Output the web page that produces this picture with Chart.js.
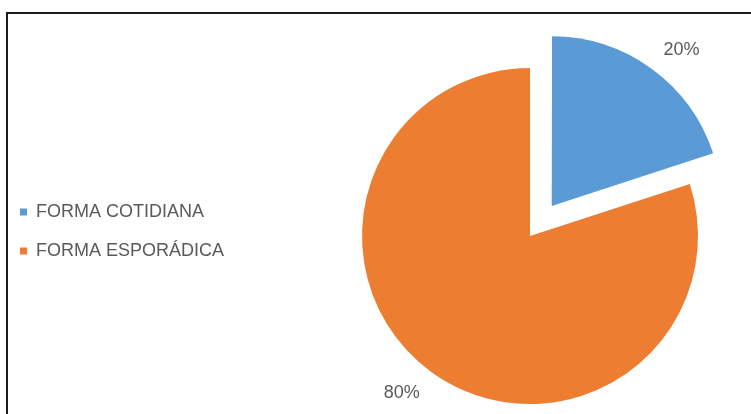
<!DOCTYPE html>
<html>
<head>
<meta charset="utf-8">
<script src="https://cdn.jsdelivr.net/npm/chart.js@4/dist/chart.umd.min.js"></script>
<style>
  html, body { margin: 0; padding: 0; background: #fff; overflow: hidden; }
  #wrap { position: relative; width: 751px; height: 414px; overflow: hidden; background: #fff; }
  #frame { position: absolute; left: 6px; top: 12px; width: 800px; height: 500px;
           border-top: 2px solid #1b1b1b; border-left: 2px solid #1b1b1b; box-sizing: border-box; }
  #c { position: absolute; left: -1px; top: 0; }
</style>
</head>
<body>
<div id="wrap">
  <div id="frame"></div>
  <canvas id="c" width="1062" height="472" style="width:1062px;height:472px"></canvas>
</div>
<script>
const categories = ['FORMA COTIDIANA', 'FORMA ESPORÁDICA'];
const values = [20, 80];
const valueLabels = ['20%', '80%'];
const colors = ['#5B9BD5', '#ED7D31'];
const explode = [148, 0];

const FONT = "'Liberation Sans', Arial, sans-serif";
const TEXT = '#595959';

const labelPlugin = {
  id: 'sliceLabels',
  afterDatasetsDraw(chart) {
    const ctx = chart.ctx;
    const meta = chart.getDatasetMeta(0);
    ctx.save();
    ctx.font = '18px ' + FONT;
    ctx.fillStyle = TEXT;
    ctx.textAlign = 'center';
    ctx.textBaseline = 'middle';
    meta.data.forEach((arc, i) => {
      const p = arc.getProps(['x', 'y', 'startAngle', 'endAngle', 'outerRadius'], true);
      const mid = (p.startAngle + p.endAngle) / 2;
      const shift = (explode[i] || 0) / 4;
      const a = mid + 0.055;
      const r = shift + p.outerRadius + 35;
      ctx.fillText(valueLabels[i], p.x + Math.cos(a) * r, p.y + Math.sin(a) * r);
    });
    ctx.restore();
  }
};

new Chart(document.getElementById('c'), {
  type: 'pie',
  data: {
    labels: categories,
    datasets: [{
      data: values,
      backgroundColor: colors,
      borderWidth: 0,
      offset: explode,
      hoverOffset: 0,
      radius: 168
    }]
  },
  options: {
    responsive: false,
    animation: false,
    events: [],
    layout: { padding: 0 },
    plugins: {
      legend: {
        position: 'chartArea',
        align: 'start',
        title: { display: true, text: '', font: { size: 12 }, padding: { top: 167.6, bottom: 0 } },
        labels: {
          boxWidth: 7,
          boxHeight: 7,
          padding: 21,
          color: TEXT,
          font: { family: FONT, size: 18 }
        }
      },
      tooltip: { enabled: false }
    }
  },
  plugins: [labelPlugin]
});
</script>
</body>
</html>
